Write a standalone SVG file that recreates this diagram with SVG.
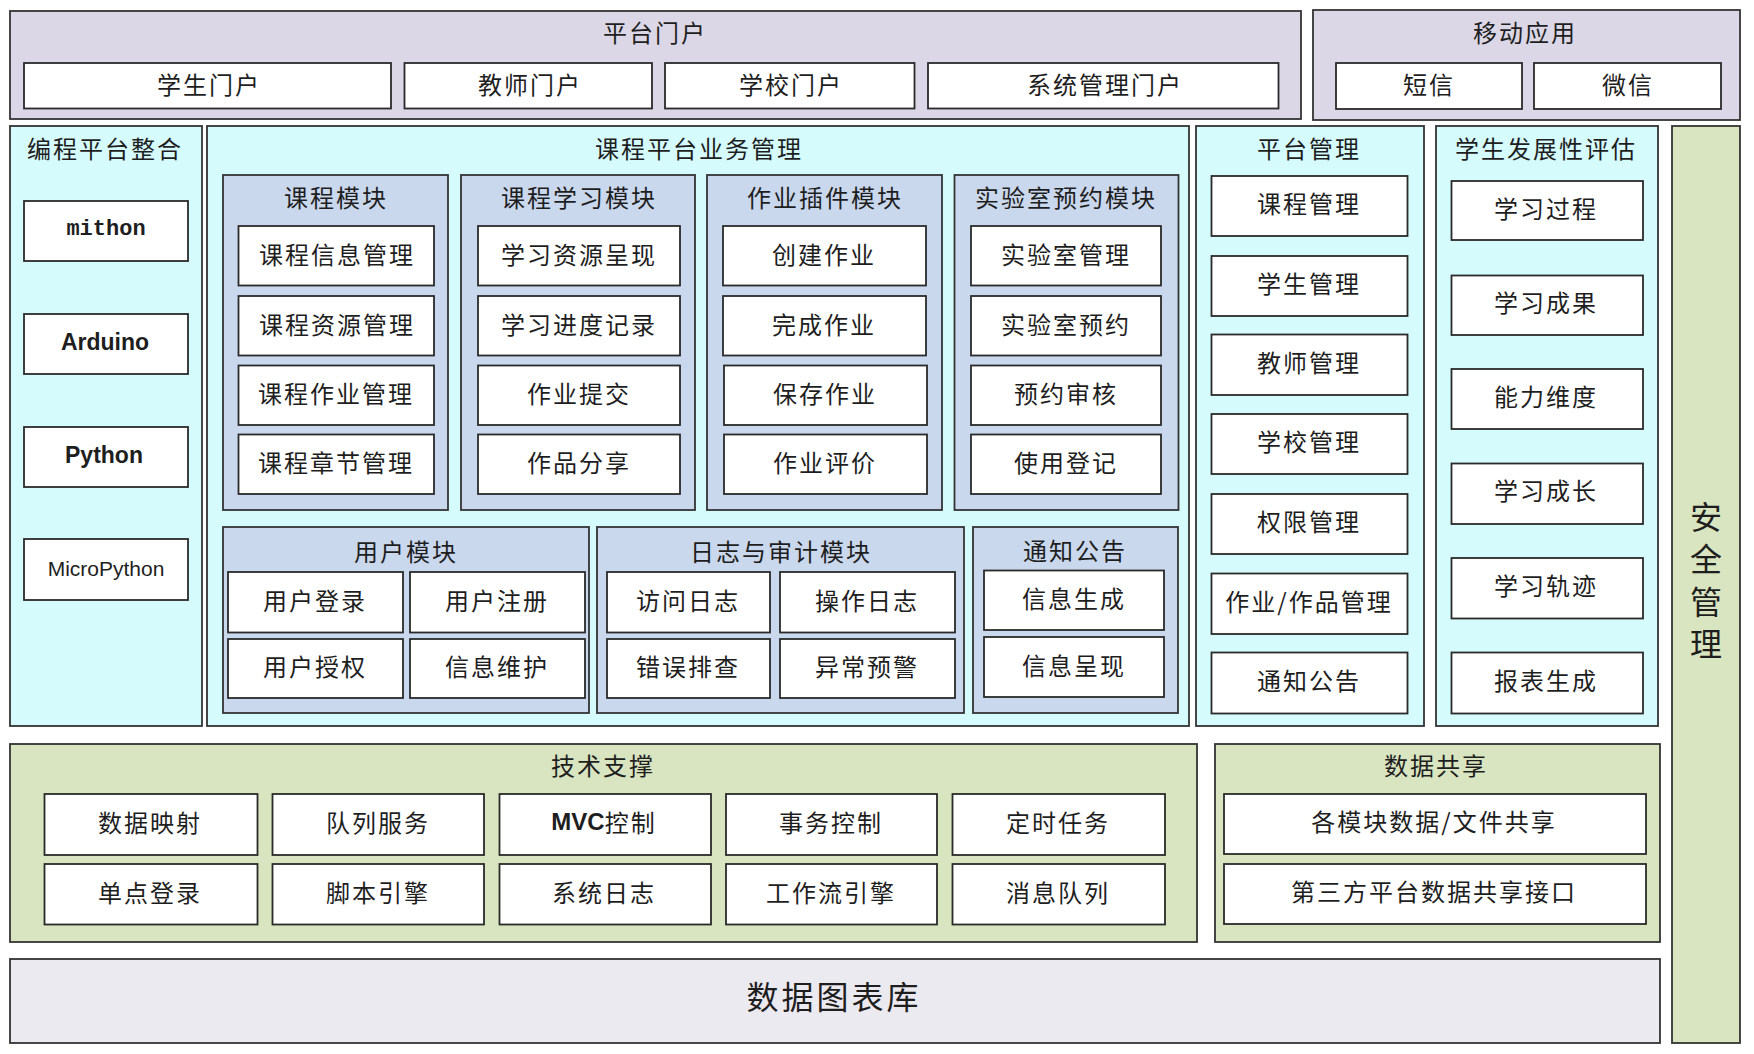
<svg xmlns="http://www.w3.org/2000/svg" width="1754" height="1054" viewBox="0 0 1754 1054">
<style>
.lav{fill:#DCD7E6;stroke:#333;stroke-width:1.8}
.cy{fill:#D5FBFD;stroke:#333;stroke-width:1.8}
.bl{fill:#CAD8EE;stroke:#333;stroke-width:1.8}
.gr{fill:#D9E4C0;stroke:#333;stroke-width:1.8}
.db{fill:#ECEAF1;stroke:#333;stroke-width:1.8}
.wb{fill:#FFFFFF;stroke:#2a2a2a;stroke-width:1.8}
text{font-family:"Noto Sans CJK SC","Liberation Sans",sans-serif;font-size:24px;fill:#1e1e1e;text-anchor:middle;dominant-baseline:central;letter-spacing:2px}
.big{font-size:32px;letter-spacing:3px}
.vt{font-size:32px;letter-spacing:0}
.mono{font-family:"Liberation Mono",monospace;font-weight:bold;font-size:22px;letter-spacing:0}
.bold{font-family:"Liberation Sans",sans-serif;font-weight:bold;font-size:23px;letter-spacing:0}
.reg{font-family:"Liberation Sans",sans-serif;font-size:21px;letter-spacing:0}
</style>
<rect width="1754" height="1054" fill="#FFFFFF"/>

<g id="portal">
<rect class="lav" x="10" y="11" width="1291" height="108"/>
<text x="655" y="31">平台门户</text>
<g id="p-student"><rect class="wb" x="24" y="63" width="367" height="45.5"/><text x="209" y="83">学生门户</text></g>
<g id="p-teacher"><rect class="wb" x="404.5" y="63" width="247.5" height="45.5"/><text x="530" y="83">教师门户</text></g>
<g id="p-school"><rect class="wb" x="665" y="63" width="249.5" height="45.5"/><text x="791" y="83">学校门户</text></g>
<g id="p-admin"><rect class="wb" x="928" y="63" width="350.5" height="45.5"/><text x="1105" y="83">系统管理门户</text></g>
</g>

<g id="mobile">
<rect class="lav" x="1313" y="10" width="427" height="110"/>
<text x="1525" y="31">移动应用</text>
<g id="m-sms"><rect class="wb" x="1336" y="63" width="186" height="46"/><text x="1429" y="83">短信</text></g>
<g id="m-wechat"><rect class="wb" x="1534" y="63" width="187" height="46"/><text x="1628" y="83">微信</text></g>
</g>

<g id="coding">
<rect class="cy" x="10" y="126" width="192" height="600"/>
<text x="105" y="147">编程平台整合</text>
<g id="c-mithon"><rect class="wb" x="24" y="201" width="164" height="60"/><text class="mono" x="106" y="229">mithon</text></g>
<g id="c-arduino"><rect class="wb" x="24" y="314" width="164" height="60"/><text class="bold" x="105" y="342">Arduino</text></g>
<g id="c-python"><rect class="wb" x="24" y="427" width="164" height="60"/><text class="bold" x="104" y="455">Python</text></g>
<g id="c-micropython"><rect class="wb" x="24" y="539" width="164" height="61"/><text class="reg" x="106" y="568">MicroPython</text></g>
</g>

<g id="business">
<rect class="cy" x="207" y="126" width="982" height="600"/>
<text x="699" y="147">课程平台业务管理</text>

<g id="course-module">
<rect class="bl" x="223" y="175" width="225" height="335"/>
<text x="336" y="196">课程模块</text>
<rect class="wb" x="238.5" y="226" width="195.5" height="59.5"/><text x="337" y="253">课程信息管理</text>
<rect class="wb" x="238.5" y="296" width="195.5" height="59.5"/><text x="337" y="323">课程资源管理</text>
<rect class="wb" x="238.5" y="365.5" width="195.5" height="59.5"/><text x="336" y="392">课程作业管理</text>
<rect class="wb" x="238.5" y="434.5" width="195.5" height="59.5"/><text x="336" y="461">课程章节管理</text>
</g>

<g id="learning-module">
<rect class="bl" x="461" y="175" width="234" height="335"/>
<text x="579" y="196">课程学习模块</text>
<rect class="wb" x="478" y="226" width="202" height="59.5"/><text x="579" y="253">学习资源呈现</text>
<rect class="wb" x="478" y="296" width="202" height="59.5"/><text x="579" y="323">学习进度记录</text>
<rect class="wb" x="478" y="365.5" width="202" height="59.5"/><text x="579" y="392">作业提交</text>
<rect class="wb" x="478" y="434.5" width="202" height="59.5"/><text x="579" y="461">作品分享</text>
</g>

<g id="homework-module">
<rect class="bl" x="707" y="175" width="235" height="335"/>
<text x="825" y="196">作业插件模块</text>
<rect class="wb" x="723" y="226" width="203" height="59.5"/><text x="824" y="253">创建作业</text>
<rect class="wb" x="723" y="296" width="203" height="59.5"/><text x="824" y="323">完成作业</text>
<rect class="wb" x="724" y="365.5" width="203" height="59.5"/><text x="825" y="392">保存作业</text>
<rect class="wb" x="724" y="434.5" width="203" height="59.5"/><text x="825" y="461">作业评价</text>
</g>

<g id="lab-module">
<rect class="bl" x="954.5" y="175" width="224" height="335"/>
<text x="1066" y="196">实验室预约模块</text>
<rect class="wb" x="971" y="226" width="190" height="59.5"/><text x="1066" y="253">实验室管理</text>
<rect class="wb" x="971" y="296" width="190" height="59.5"/><text x="1066" y="323">实验室预约</text>
<rect class="wb" x="971" y="365.5" width="190" height="59.5"/><text x="1066" y="392">预约审核</text>
<rect class="wb" x="971" y="434.5" width="190" height="59.5"/><text x="1066" y="461">使用登记</text>
</g>

<g id="user-module">
<rect class="bl" x="223" y="527" width="366" height="186"/>
<text x="406" y="550">用户模块</text>
<rect class="wb" x="228" y="572" width="175" height="60.5"/><text x="315" y="599">用户登录</text>
<rect class="wb" x="410" y="572" width="175" height="60.5"/><text x="497" y="599">用户注册</text>
<rect class="wb" x="228" y="639" width="175" height="59"/><text x="315" y="665">用户授权</text>
<rect class="wb" x="410" y="639" width="175" height="59"/><text x="497" y="665">信息维护</text>
</g>

<g id="log-module">
<rect class="bl" x="597" y="527" width="367" height="186"/>
<text x="781" y="550">日志与审计模块</text>
<rect class="wb" x="607" y="572" width="163" height="60.5"/><text x="688" y="599">访问日志</text>
<rect class="wb" x="780" y="572" width="175" height="60.5"/><text x="867" y="599">操作日志</text>
<rect class="wb" x="607" y="639" width="163" height="59"/><text x="688" y="665">错误排查</text>
<rect class="wb" x="780" y="639" width="175" height="59"/><text x="867" y="665">异常预警</text>
</g>

<g id="notice-module">
<rect class="bl" x="973" y="527" width="205" height="186"/>
<text x="1075" y="549">通知公告</text>
<rect class="wb" x="984" y="570.5" width="180" height="59.5"/><text x="1074" y="597">信息生成</text>
<rect class="wb" x="984" y="637" width="180" height="60"/><text x="1074" y="664">信息呈现</text>
</g>
</g>

<g id="platform-mgmt">
<rect class="cy" x="1196" y="126" width="228" height="600"/>
<text x="1309" y="147">平台管理</text>
<rect class="wb" x="1211.5" y="176" width="196" height="60"/><text x="1309" y="202">课程管理</text>
<rect class="wb" x="1211.5" y="256" width="196" height="60"/><text x="1309" y="282">学生管理</text>
<rect class="wb" x="1211.5" y="334.5" width="196" height="60.5"/><text x="1309" y="361">教师管理</text>
<rect class="wb" x="1211.5" y="414" width="196" height="60"/><text x="1309" y="440">学校管理</text>
<rect class="wb" x="1211.5" y="494" width="196" height="60"/><text x="1309" y="520">权限管理</text>
<rect class="wb" x="1211.5" y="573.5" width="196" height="60.5"/><text x="1309" y="600">作业/作品管理</text>
<rect class="wb" x="1211.5" y="652.5" width="196" height="61"/><text x="1309" y="679">通知公告</text>
</g>

<g id="student-eval">
<rect class="cy" x="1436" y="126" width="222" height="600"/>
<text x="1546" y="147">学生发展性评估</text>
<rect class="wb" x="1451.5" y="181" width="191.5" height="59"/><text x="1546" y="207">学习过程</text>
<rect class="wb" x="1451.5" y="275.5" width="191.5" height="59.5"/><text x="1546" y="301">学习成果</text>
<rect class="wb" x="1451.5" y="369" width="191.5" height="60"/><text x="1546" y="395">能力维度</text>
<rect class="wb" x="1451.5" y="463.5" width="191.5" height="60.5"/><text x="1546" y="489">学习成长</text>
<rect class="wb" x="1451.5" y="558" width="191.5" height="60.5"/><text x="1546" y="584">学习轨迹</text>
<rect class="wb" x="1451.5" y="652.5" width="191.5" height="61"/><text x="1546" y="679">报表生成</text>
</g>

<g id="security">
<rect class="gr" x="1672" y="126" width="68" height="917"/>
<text class="vt" x="1706" y="515">安</text>
<text class="vt" x="1706" y="557">全</text>
<text class="vt" x="1706" y="600">管</text>
<text class="vt" x="1706" y="642">理</text>
</g>

<g id="tech">
<rect class="gr" x="10" y="744" width="1187" height="198"/>
<text x="603" y="764">技术支撑</text>
<rect class="wb" x="44.5" y="794" width="213" height="61"/><text x="150" y="821">数据映射</text>
<rect class="wb" x="272.5" y="794" width="211.5" height="61"/><text x="378" y="821">队列服务</text>
<rect class="wb" x="499.5" y="794" width="211.5" height="61"/><text x="604" y="821"><tspan font-family="Liberation Sans" font-weight="bold" letter-spacing="0">MVC</tspan>控制</text>
<rect class="wb" x="726" y="794" width="211" height="61"/><text x="831" y="821">事务控制</text>
<rect class="wb" x="952.5" y="794" width="212.5" height="61"/><text x="1058" y="821">定时任务</text>
<rect class="wb" x="44.5" y="864" width="213" height="60.5"/><text x="150" y="891">单点登录</text>
<rect class="wb" x="272.5" y="864" width="211.5" height="60.5"/><text x="378" y="891">脚本引擎</text>
<rect class="wb" x="499.5" y="864" width="211.5" height="60.5"/><text x="604" y="891">系统日志</text>
<rect class="wb" x="726" y="864" width="211" height="60.5"/><text x="831" y="891">工作流引擎</text>
<rect class="wb" x="952.5" y="864" width="212.5" height="60.5"/><text x="1058" y="891">消息队列</text>
</g>

<g id="data-share">
<rect class="gr" x="1215" y="744" width="445" height="198"/>
<text x="1436" y="764">数据共享</text>
<rect class="wb" x="1224" y="794" width="422" height="60"/><text x="1434" y="820">各模块数据/文件共享</text>
<rect class="wb" x="1224" y="864" width="422" height="60"/><text x="1434" y="890">第三方平台数据共享接口</text>
</g>

<g id="database">
<rect class="db" x="10" y="959" width="1650" height="84"/>
<text class="big" x="834" y="995">数据图表库</text>
</g>

<g id="connectors"></g>
</svg>
